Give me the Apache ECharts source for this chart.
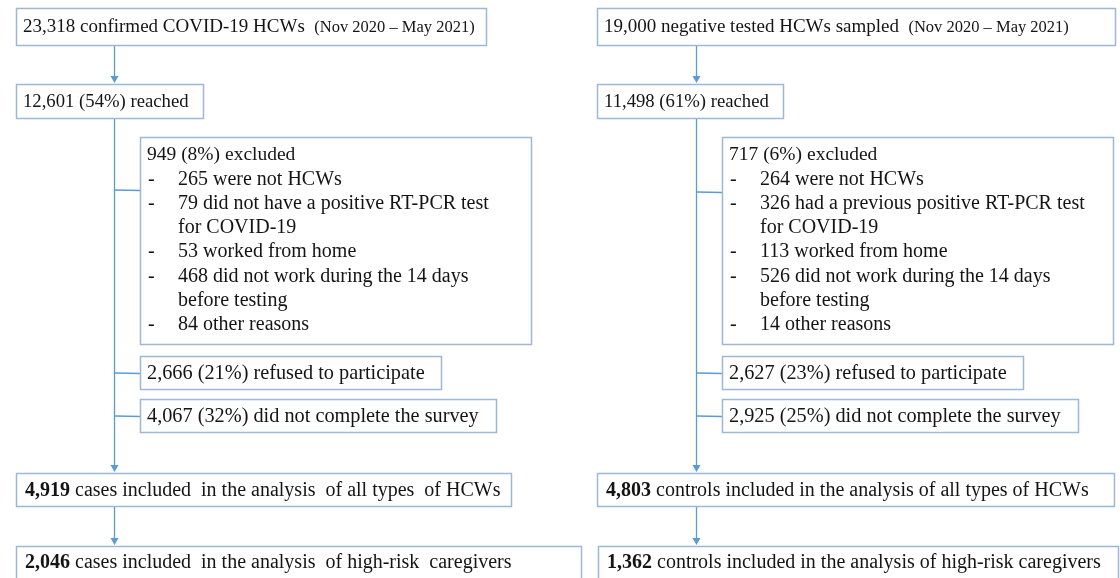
<!DOCTYPE html>
<html>
<head>
<meta charset="utf-8">
<script src="https://cdn.jsdelivr.net/npm/echarts@6/dist/echarts.min.js"></script>
<style>
  html, body { margin: 0; padding: 0; background: #fff; }
  #flow { width: 1120px; height: 578px; }
</style>
</head>
<body>
<div id="flow"></div>
<script>
// flow counts, left column = cases, right column = controls
var sources = ['23,318 confirmed COVID-19 HCWs', '19,000 negative tested HCWs sampled'];
var period = '(Nov 2020 \u2013 May 2021)';
var reached = ['12,601 (54%) reached', '11,498 (61%) reached'];
var excludedTotal = ['949 (8%) excluded', '717 (6%) excluded'];
var reasonsCases = [
    '265 were not HCWs',
    '79 did not have a positive RT-PCR test\nfor COVID-19',
    '53 worked from home',
    '468 did not work during the 14 days\nbefore testing',
    '84 other reasons'
];
var reasonsControls = [
    '264 were not HCWs',
    '326 had a previous positive RT-PCR test\nfor COVID-19',
    '113 worked from home',
    '526 did not work during the 14 days\nbefore testing',
    '14 other reasons'
];
var refused = ['2,666 (21%) refused to participate', '2,627 (23%) refused to participate'];
var incomplete = ['4,067 (32%) did not complete the survey', '2,925 (25%) did not complete the survey'];
var allTypesCounts = ['4,919', '4,803'];
var allTypesText = [
    ' cases included  in the analysis  of all types  of HCWs',
    ' controls included in the analysis of all types of HCWs'
];
var highRiskCounts = ['2,046', '1,362'];
var highRiskText = [
    ' cases included  in the analysis  of high-risk  caregivers',
    ' controls included in the analysis of high-risk caregivers'
];

// layout
var boxStroke = '#9cb8d6';
var lineColor = '#5b9bd5';
var textColor = '#141414';
var fontFamily = '"Liberation Serif", "Times New Roman", serif';
var lineStep = 24.3;

var cols = [
    {x0: 16, spine: 114, sub: 140, w1: 470, w2: 187, wEx: 391, wRef: 301, wInc: 356, w4: 495, x5: 16, w5: 565, exLink: 53},
    {x0: 597, spine: 696, sub: 722, w1: 518, w2: 186, wEx: 391, wRef: 301, wInc: 356, w4: 517, x5: 598, w5: 520, exLink: 55}
];
var rows = {top: 8, h1: 37, r2: 84, h2: 34, ex: 137, hEx: 207, ref: 356, inc: 399, hSmall: 33, r4: 473, r5: 546};

var els = [];

function box(x, y, w, h) {
    els.push({
        type: 'rect',
        shape: {x: x + 0.5, y: y + 0.5, width: w, height: h},
        style: {fill: '#fff', stroke: boxStroke, lineWidth: 1.5}
    });
}

function line(x1, y1, x2, y2) {
    els.push({
        type: 'line',
        shape: {x1: x1 + 0.5, y1: y1, x2: x2 + 0.5, y2: y2 + 0.5},
        style: {stroke: lineColor, lineWidth: 1.3}
    });
}

function arrow(x, y1, y2) {
    line(x, y1, x, y2 - 5);
    els.push({
        type: 'polygon',
        shape: {points: [[x - 3.5, y2 - 8], [x + 4.5, y2 - 8], [x + 0.5, y2 - 1]]},
        style: {fill: lineColor}
    });
}

function label(x, y, text, size) {
    els.push({
        type: 'text',
        x: x,
        y: y,
        z: 10,
        style: {
            text: text,
            fontFamily: fontFamily,
            fontSize: size,
            fill: textColor,
            align: 'left',
            verticalAlign: 'middle',
            rich: {
                n: {fontFamily: fontFamily, fontSize: size, fill: textColor},
                b: {fontFamily: fontFamily, fontSize: size, fontWeight: 'bold', fill: textColor},
                s: {fontFamily: fontFamily, fontSize: 16.5, fill: textColor}
            }
        }
    });
}

cols.forEach(function (c, i) {
    var reasons = i === 0 ? reasonsCases : reasonsControls;

    // connectors first so boxes sit above them
    arrow(c.spine, rows.top + rows.h1, rows.r2);
    arrow(c.spine, rows.r2 + rows.h2, rows.r4);
    arrow(c.spine, rows.r4 + rows.hSmall, rows.r5);
    line(c.spine, rows.ex + c.exLink, c.sub, rows.ex + c.exLink);
    line(c.spine, rows.ref + 17, c.sub, rows.ref + 17);
    line(c.spine, rows.inc + 17, c.sub, rows.inc + 17);

    box(c.x0, rows.top, c.w1, rows.h1);
    label(c.x0 + 7, rows.top + rows.h1 / 2 + 1, '{n|' + sources[i] + '}  {s|' + period + '}', 19);

    box(c.x0, rows.r2, c.w2, rows.h2);
    label(c.x0 + 7, rows.r2 + rows.h2 / 2 + 1, reached[i], 18.7);

    box(c.sub, rows.ex, c.wEx, rows.hEx);
    var ly = rows.ex + 18;
    label(c.sub + 7, ly, excludedTotal[i], 19.5);
    reasons.forEach(function (r) {
        r.split('\n').forEach(function (part, k) {
            ly += lineStep;
            if (k === 0) label(c.sub + 8, ly, '-', 20);
            label(c.sub + 38, ly, part, 20);
        });
    });

    box(c.sub, rows.ref, c.wRef, rows.hSmall);
    label(c.sub + 7, rows.ref + rows.hSmall / 2 + 1, refused[i], 20.3);

    box(c.sub, rows.inc, c.wInc, rows.hSmall);
    label(c.sub + 7, rows.inc + rows.hSmall / 2 + 1, incomplete[i], 20.3);

    box(c.x0, rows.r4, c.w4, rows.hSmall);
    label(c.x0 + 9, rows.r4 + rows.hSmall / 2 + 1, '{b|' + allTypesCounts[i] + '}' + allTypesText[i], 20);

    box(c.x5, rows.r5, c.w5, 60);
    label(c.x5 + 9, rows.r5 + 17, '{b|' + highRiskCounts[i] + '}' + highRiskText[i], 20);
});

var chart = echarts.init(document.getElementById('flow'));
chart.setOption({
    backgroundColor: '#fff',
    animation: false,
    graphic: {elements: els}
});
</script>
</body>
</html>
